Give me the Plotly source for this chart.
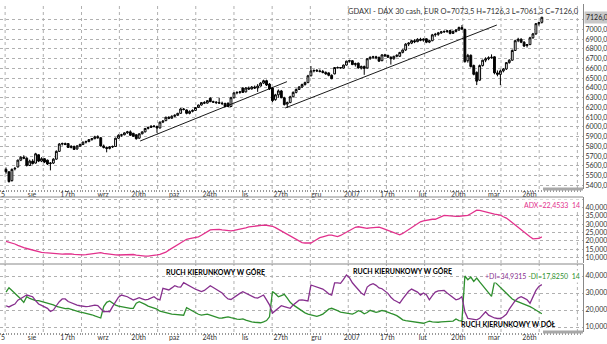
import plotly.graph_objects as go

# ---------------- data ----------------
opens = [5565,5540,5450,5570,5590,5660,5690,5680,5605,5650,
         5630,5715,5650,5675,5660,5625,5630,5670,5750,5825,
         5830,5830,5790,5800,5775,5805,5820,5845,5850,5870,
         5880,5900,5890,5805,5790,5780,5795,5800,5885,5915,
         5920,5940,5950,5935,5920,5885,5930,5950,5985,5995,
         6010,6005,5990,6050,6065,6100,6090,6110,6120,6140,
         6185,6175,6140,6160,6170,6200,6225,6250,6245,6295,
         6260,6255,6250,6245,6240,6245,6210,6300,6350,6355,
         6400,6360,6400,6390,6410,6400,6420,6450,6475,6440,
         6400,6280,6330,6370,6300,6235,6250,6310,6355,6385,
         6410,6435,6455,6525,6575,6580,6575,6570,6560,6555,
         6530,6545,6610,6610,6605,6635,6675,6680,6640,6655,
         6605,6620,6605,6700,6715,6720,6715,6680,6740,6735,
         6715,6700,6725,6725,6765,6790,6850,6860,6885,6875,
         6900,6890,6905,6870,6885,6945,6950,6965,6975,6980,
         6990,6960,6980,6995,7020,7000,6680,6735,6630,6560,
         6480,6630,6685,6700,6710,6720,6555,6540,6575,6595,
         6660,6685,6785,6885,6900,6870,6835,6845,6915,6955,
         7060,7073.5]
highs = [5585,5545,5575,5590,5665,5700,5710,5690,5665,5670,
         5735,5720,5690,5680,5665,5640,5680,5760,5835,5840,
         5840,5835,5815,5810,5815,5830,5850,5860,5875,5885,
         5910,5915,5895,5820,5800,5805,5810,5890,5925,5930,
         5945,5960,5965,5940,5925,5935,5955,5990,6005,6015,
         6020,6015,6055,6070,6105,6110,6120,6130,6145,6195,
         6195,6180,6170,6180,6205,6230,6255,6265,6275,6305,
         6270,6265,6300,6260,6250,6250,6310,6355,6365,6370,
         6405,6410,6415,6420,6425,6440,6460,6485,6485,6450,
         6405,6340,6385,6380,6310,6260,6320,6365,6395,6420,
         6445,6465,6535,6625,6590,6595,6590,6585,6570,6560,
         6540,6615,6620,6615,6640,6680,6690,6685,6660,6660,
         6630,6630,6705,6725,6730,6730,6720,6745,6750,6740,
         6725,6730,6745,6770,6795,6860,6870,6895,6900,6910,
         6915,6910,6910,6895,6955,6965,6975,6985,6990,6995,
         6995,6990,7005,7030,7045,7010,6750,6745,6640,6570,
         6640,6690,6715,6725,6745,6725,6580,6590,6605,6665,
         6695,6795,6895,6915,6910,6880,6850,6925,6965,7065,
         7080,7126.3]
lows = [5520,5430,5440,5555,5585,5650,5670,5595,5600,5615,
        5625,5640,5640,5630,5610,5555,5620,5665,5745,5810,
        5815,5785,5780,5765,5765,5795,5815,5830,5845,5860,
        5875,5880,5800,5780,5740,5770,5785,5795,5880,5900,
        5915,5930,5910,5900,5870,5880,5925,5945,5975,5990,
        5995,5940,5985,6040,6060,6080,6085,6100,6115,6135,
        6170,6130,6130,6150,6165,6195,6220,6235,6240,6255,
        6250,6235,6240,6225,6200,6205,6205,6295,6335,6340,
        6350,6355,6380,6385,6390,6360,6415,6440,6420,6380,
        6255,6270,6300,6295,6220,6195,6245,6305,6345,6380,
        6400,6425,6450,6520,6560,6565,6560,6550,6535,6520,
        6490,6540,6600,6600,6600,6630,6660,6635,6620,6600,
        6590,6535,6600,6690,6700,6695,6670,6675,6720,6710,
        6640,6690,6715,6720,6755,6780,6830,6850,6860,6870,
        6880,6875,6860,6860,6880,6925,6935,6955,6965,6965,
        6950,6955,6970,6985,6995,6660,6660,6610,6530,6430,
        6475,6620,6665,6685,6700,6540,6520,6430,6560,6585,
        6650,6680,6780,6870,6860,6820,6815,6840,6905,6945,
        7040,7061.3]
closes = [5540,5440,5565,5575,5660,5690,5680,5605,5650,5625,
          5725,5650,5675,5640,5620,5630,5670,5750,5825,5830,
          5820,5790,5800,5770,5805,5820,5845,5850,5870,5880,
          5900,5890,5805,5790,5780,5795,5800,5885,5915,5920,
          5940,5950,5915,5905,5880,5930,5950,5985,5995,6010,
          6005,5990,6050,6060,6100,6090,6110,6120,6140,6185,
          6180,6140,6160,6170,6200,6225,6250,6245,6270,6260,
          6255,6250,6245,6240,6210,6210,6300,6350,6355,6360,
          6355,6400,6390,6410,6400,6420,6450,6475,6430,6390,
          6270,6330,6370,6300,6230,6250,6310,6355,6385,6410,
          6435,6455,6525,6575,6580,6575,6570,6560,6545,6530,
          6495,6610,6610,6605,6635,6675,6680,6640,6650,6605,
          6620,6600,6700,6715,6720,6710,6675,6740,6730,6715,
          6700,6725,6735,6765,6790,6850,6860,6885,6875,6900,
          6890,6900,6870,6885,6945,6950,6965,6975,6980,6985,
          6960,6980,6995,7020,7005,6670,6735,6620,6540,6470,
          6630,6685,6700,6710,6715,6555,6540,6575,6595,6660,
          6685,6785,6885,6900,6870,6830,6845,6915,6955,7060,
          7070,7126.0]

adx = [19.7,19.3,18.9,18.2,17.4,16.5,16.0,15.5,15.0,14.5,
       14.1,13.6,13.2,13.0,12.8,12.6,12.4,12.2,12.0,12.1,
       12.2,12.4,12.3,12.0,11.8,11.6,11.7,11.8,12.0,12.2,
       12.5,12.8,13.0,12.6,12.3,12.0,11.8,11.7,11.6,11.7,
       11.9,12.1,12.2,11.9,11.5,11.2,11.1,11.0,11.0,11.1,
       11.4,11.7,12.0,12.6,13.3,14.5,15.5,16.5,17.7,18.8,
       19.8,21.0,21.4,21.8,22.2,22.5,23.4,24.5,25.7,26.6,
       26.8,26.9,26.9,26.6,26.3,26.0,26.1,26.4,26.7,26.9,
       27.3,27.9,28.4,28.7,29.0,29.3,29.5,29.5,29.4,29.2,
       28.8,28.0,27.0,26.0,25.0,24.0,22.9,21.8,20.6,19.5,
       19.0,18.8,18.7,18.8,19.8,21.0,22.0,22.5,23.0,23.5,
       23.5,23.0,22.6,23.3,24.3,25.3,26.3,27.3,28.2,28.5,
       28.2,27.8,27.6,27.8,28.1,28.4,28.3,27.7,27.0,26.4,
       25.8,25.1,24.3,23.7,24.5,25.7,27.0,28.2,29.4,30.5,
       31.5,32.0,32.4,32.8,33.0,33.0,33.8,34.8,35.3,35.2,
       35.0,34.6,34.7,34.8,34.9,35.0,35.3,36.3,37.4,38.4,
       38.3,37.8,37.2,36.8,36.4,36.1,35.8,35.4,34.5,33.7,
       32.4,30.9,29.5,28.0,26.6,25.0,23.6,22.5,21.3,21.2,
       21.5,22.4533]
plus_di = [22.5,21.8,22.7,23.5,25.8,27.0,27.8,28.8,28.3,27.8,
           25.5,23.5,22.7,22.0,21.0,19.2,20.0,22.5,24.9,26.5,
           26.5,25.0,24.2,23.5,22.9,22.5,22.2,22.0,22.1,22.5,
           22.9,22.6,20.5,19.0,19.2,19.0,22.0,25.0,27.5,28.8,
           28.3,27.8,26.8,25.9,26.5,27.2,26.6,26.0,26.2,27.2,
           27.8,26.5,25.9,32.7,32.2,31.8,33.0,34.3,33.6,33.5,
           36.1,35.0,34.0,33.0,32.2,31.5,30.8,31.5,33.0,34.3,
           33.2,32.2,31.0,30.0,28.0,26.5,26.2,27.5,28.8,29.8,
           30.8,30.0,29.0,28.2,27.3,27.0,28.0,28.8,26.0,23.0,
           18.2,19.5,21.0,22.5,22.0,21.5,21.0,23.0,24.5,25.8,
           25.9,25.5,25.3,34.7,34.0,33.7,33.0,32.3,31.0,29.5,
           28.8,36.0,36.0,35.7,38.0,40.6,39.0,36.0,34.0,32.0,
           30.0,28.8,33.5,34.8,35.5,34.5,33.0,32.5,31.0,29.8,
           27.5,25.9,25.0,24.0,26.5,29.0,31.0,32.3,31.5,30.5,
           28.8,30.0,29.0,26.0,28.5,30.5,31.3,31.6,31.5,30.0,
           28.8,27.5,26.0,26.5,27.8,19.0,15.1,14.8,14.5,14.2,
           15.1,17.0,19.0,17.0,16.0,15.3,15.0,15.0,16.0,17.5,
           20.5,23.0,25.5,27.0,27.8,27.0,26.0,24.0,27.5,31.5,
           33.9,34.9315]
minus_di = [30.5,33.1,31.5,30.0,28.5,26.5,24.5,27.8,26.8,26.0,
            25.5,25.5,25.0,24.4,24.2,23.7,23.0,22.1,21.6,21.2,
            20.8,20.9,20.3,19.6,19.0,18.8,18.5,18.1,17.8,17.2,
            16.5,16.0,15.3,22.0,24.5,25.3,24.0,22.9,22.3,22.0,
            21.5,21.0,21.0,21.0,24.0,24.9,24.2,23.3,22.3,21.7,
            21.0,20.5,19.3,18.8,18.3,17.9,17.6,17.4,17.2,17.0,
            16.9,21.4,20.3,19.2,18.3,17.5,17.0,17.3,17.6,17.0,
            16.3,15.8,15.2,15.3,15.8,16.0,15.5,15.0,14.6,14.5,
            14.8,14.0,13.4,13.0,12.8,12.6,12.5,13.0,13.8,16.0,
            30.8,29.5,27.8,28.5,29.2,27.0,24.5,23.0,21.8,20.4,
            19.5,18.3,17.6,17.1,16.7,16.3,16.8,17.6,19.0,20.5,
            21.0,20.5,19.6,18.8,18.5,18.2,18.0,17.6,18.4,19.6,
            19.0,17.8,18.5,19.8,19.2,18.6,19.0,19.7,19.3,18.5,
            18.0,17.4,16.7,15.5,14.2,13.8,13.5,13.2,13.0,12.7,
            12.4,12.2,12.8,13.4,13.0,12.7,12.8,13.0,13.1,13.2,
            13.3,13.5,14.7,13.8,13.5,40.0,37.8,39.4,36.8,38.8,
            36.5,34.5,32.0,30.0,28.0,36.7,35.0,33.8,32.0,30.3,
            28.5,26.5,25.5,24.8,24.3,23.6,22.9,22.0,21.0,19.8,
            18.8,17.825]

# trend lines (bar index, price)
trend_a_x = [45.3, 94.9]
trend_a_y = [5856, 6465]
trend_b_x = [94.3, 165.8]
trend_b_y = [6195, 7046]

# x tick labels (bar index positions)
tick_pos = [-1.0, 8.8, 20.8, 32.8, 44.8, 56.8, 68.8, 80.8, 92.8, 104.8,
            116.8, 128.8, 140.8, 152.8, 164.8, 176.8]
tick_text = ["5", "sie", "17th", "wrz", "20th", "paź", "24th", "lis", "27th", "gru",
             "2007", "17th", "lut", "20th", "mar", "26th"]
vgrid_pos = [-0.3, 12.6, 25.5, 38.3, 51.2, 64.1, 77.0, 89.9, 102.8, 115.6,
             128.5, 141.4, 154.3, 167.2, 180.1, 193.0]

price_ticks = list(range(5400, 7200, 100))
adx_ticks = [10, 15, 20, 25, 30, 35, 40, 45]
di_ticks = [10, 20, 30, 40]

# ---------------- figure ----------------
W, H = 607, 344
FONT = "Lato, 'Open Sans', sans-serif"
PINK = "#E2318C"
PURPLE = "#87308E"
GREEN = "#2E8F2E"
GRID = "#b0b0b0"

def comma(v, d):
    return f"{v:.{d}f}".replace(".", ",")

def py(p):
    return 1 - p / H

n = len(closes)
bars = list(range(n))

fig = go.Figure()
fig.add_trace(go.Candlestick(
    x=bars, open=opens, high=highs, low=lows, close=closes,
    increasing=dict(line=dict(color="black", width=1), fillcolor="white"),
    decreasing=dict(line=dict(color="black", width=1), fillcolor="black"),
    whiskerwidth=0, xaxis="x", yaxis="y", showlegend=False, hoverinfo="skip"))
for tx, ty in ((trend_a_x, trend_a_y), (trend_b_x, trend_b_y)):
    fig.add_trace(go.Scatter(x=tx, y=ty, mode="lines", line=dict(color="black", width=0.9),
                             xaxis="x", yaxis="y", showlegend=False, hoverinfo="skip"))
fig.add_trace(go.Scatter(x=bars, y=adx, mode="lines", line=dict(color=PINK, width=1.3),
                         xaxis="x2", yaxis="y2", showlegend=False, hoverinfo="skip"))
fig.add_trace(go.Scatter(x=bars, y=minus_di, mode="lines", line=dict(color=GREEN, width=1.3),
                         xaxis="x3", yaxis="y3", showlegend=False, hoverinfo="skip"))
fig.add_trace(go.Scatter(x=bars, y=plus_di, mode="lines", line=dict(color=PURPLE, width=1.3),
                         xaxis="x3", yaxis="y3", showlegend=False, hoverinfo="skip"))

x_right = 583 / W
x_range = [-2.03, 194.9]
tickfont = dict(family=FONT, size=7, color="#333333")

xcommon = dict(domain=[0, x_right], range=x_range, zeroline=False, showgrid=False,
               fixedrange=True, showline=False)
fig.update_layout(
    width=W, height=H, margin=dict(l=0, r=0, t=0, b=0),
    paper_bgcolor="white", plot_bgcolor="white", hovermode=False, boxgap=0.12,
    separators=", ", font=dict(family=FONT, size=7, color="#333333"),
    xaxis=dict(**xcommon, anchor="y", tickmode="array", tickvals=tick_pos, ticktext=tick_text,
               ticks="", tickfont=tickfont, rangeslider=dict(visible=False),
               minor=dict(tickmode="linear", tick0=0, dtick=1, ticks="outside", ticklen=2,
                          tickcolor="#999999", showgrid=False)),
    xaxis2=dict(**xcommon, anchor="y2", matches="x", showticklabels=False, ticks=""),
    xaxis3=dict(**xcommon, anchor="y3", matches="x", tickmode="array", tickvals=tick_pos,
                ticktext=tick_text, ticks="", tickfont=tickfont,
                minor=dict(tickmode="linear", tick0=0, dtick=1, ticks="outside", ticklen=2,
                           tickcolor="#999999", showgrid=False)),
    yaxis=dict(domain=[py(189), py(4)], range=[5364, 7261.5], anchor="x", side="right",
               tickmode="array", tickvals=price_ticks,
               ticktext=[comma(v, 1) if v < 7100 else "" for v in price_ticks],
               showgrid=True, gridcolor=GRID, griddash="dot", gridwidth=1,
               showline=True, linecolor="#888888", linewidth=1, ticks="",
               tickfont=tickfont, zeroline=False, fixedrange=True),
    yaxis2=dict(domain=[py(263), py(197)], range=[6.83, 46.3], anchor="x2", side="right",
                tickmode="array", tickvals=adx_ticks,
                ticktext=[comma(v, 3) if v <= 40 else "" for v in adx_ticks],
                showgrid=True, gridcolor=GRID, griddash="dot", gridwidth=1,
                showline=True, linecolor="#888888", linewidth=1, ticks="",
                tickfont=tickfont, zeroline=False, fixedrange=True),
    yaxis3=dict(domain=[py(332), py(264)], range=[7.06, 47.06], anchor="x3", side="right",
                tickmode="array", tickvals=di_ticks, ticktext=[comma(v, 3) for v in di_ticks],
                showgrid=True, gridcolor=GRID, griddash="dot", gridwidth=1,
                showline=True, linecolor="#888888", linewidth=1, ticks="",
                tickfont=tickfont, zeroline=False, fixedrange=True),
)

shapes = []
for xr, yr in (("x", "y domain"), ("x2", "y2 domain"), ("x3", "y3 domain")):
    for g in vgrid_pos:
        shapes.append(dict(type="line", xref=xr, yref=yr, x0=g, x1=g, y0=0, y1=1,
                           line=dict(color=GRID, width=1, dash="dot"), layer="below"))
for yr in ("y2 domain", "y3 domain"):
    shapes.append(dict(type="line", xref="paper", yref=yr, x0=0, x1=x_right, y0=1, y1=1,
                       line=dict(color="#888888", width=1)))
for yr in ("y domain", "y3 domain"):
    shapes.append(dict(type="line", xref="paper", yref=yr, x0=543 / W, x1=x_right, y0=0, y1=0,
                       line=dict(color="#a8a8a8", width=3)))
fig.update_layout(shapes=shapes)

title = (f"GDAXI - DAX 30 cash, EUR O={comma(opens[-1], 1)} H={comma(highs[-1], 1)} "
         f"L={comma(lows[-1], 1)} C={comma(closes[-1], 1)}")
ann = [
    dict(text=title, xref="paper", yref="paper", x=581 / W, y=py(12), xanchor="right",
         yanchor="middle", showarrow=False, font=dict(family=FONT, size=7.5, color="#333333")),
    dict(text=comma(closes[-1], 1), xref="paper", yref="y", x=584 / W, y=closes[-1],
         xanchor="left", yanchor="middle", showarrow=False, bgcolor="#c8c8c8", borderpad=1,
         font=dict(family=FONT, size=7, color="#222222")),
    dict(text=f"ADX={comma(adx[-1], 4)}  14", xref="paper", yref="paper", x=582 / W,
         y=py(205.5), xanchor="right", yanchor="middle", showarrow=False, bgcolor="white",
         font=dict(family=FONT, size=7, color=PINK)),
    dict(text=(f"<span style='color:{PURPLE}'>+DI={comma(plus_di[-1], 4)}</span> "
               f"<span style='color:{GREEN}'>-DI={comma(minus_di[-1], 4)}  14</span>"),
         xref="paper", yref="paper", x=582 / W, y=py(276), xanchor="right", yanchor="middle",
         showarrow=False, bgcolor="white", font=dict(family=FONT, size=7)),
    dict(text="<b>RUCH KIERUNKOWY W GÓRĘ</b>", xref="paper", yref="paper", x=215.8 / W,
         y=py(271.8), xanchor="center", yanchor="middle", showarrow=False,
         font=dict(family=FONT, size=7, color="black")),
    dict(text="<b>RUCH KIERUNKOWY W GÓRĘ</b>", xref="paper", yref="paper", x=402.5 / W,
         y=py(270.5), xanchor="center", yanchor="middle", showarrow=False,
         font=dict(family=FONT, size=7, color="black")),
    dict(text="<b>RUCH KIERUNKOWY W DÓŁ</b>", xref="paper", yref="paper", x=508 / W,
         y=py(323.5), xanchor="center", yanchor="middle", showarrow=False,
         font=dict(family=FONT, size=7, color="black")),
]
fig.update_layout(annotations=ann)

fig.write_html("out.html")
